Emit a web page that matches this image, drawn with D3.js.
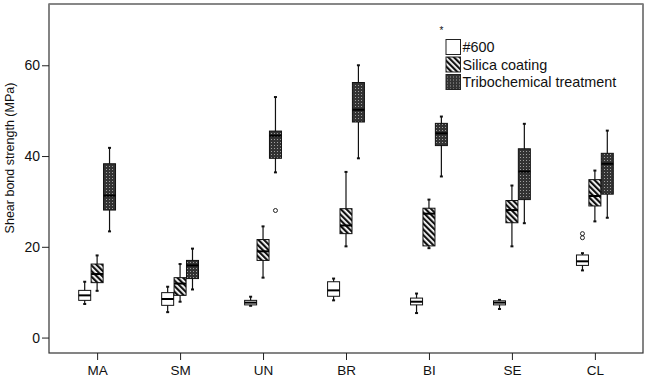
<html lang="en">
<head>
<style>
	body { margin: 0; background: #fff; }
	text { font-family: "Liberation Sans", Arial, sans-serif; fill: #111; }
	.axis path, .axis line { stroke: #222; }
</style>
</head>
<body>
<svg width="651" height="380"></svg>
</body>
<script type='text/javascript' src='https://d3js.org/d3.v7.min.js'></script>
<script>
	// categories and series
	var categories = ["MA", "SM", "UN", "BR", "BI", "SE", "CL"];
	var series = ["#600", "Silica coating", "Tribochemical treatment"];
	var yTicks = [0, 20, 40, 60];

	// five number summaries per category: [low whisker, q1, median, q3, high whisker]
	var stats600 = [
		[7.4, 8.2, 9.3, 10.4, 12.3],
		[5.6, 7.1, 8.5, 9.9, 11.2],
		[7.0, 7.2, 7.7, 8.2, 9.0],
		[8.2, 9.1, 10.4, 12.3, 13.0],
		[5.4, 7.2, 7.9, 8.7, 9.7],
		[6.3, 7.2, 7.7, 8.1, 8.3],
		[14.8, 15.9, 16.8, 18.2, 18.6]
	];
	var statsSilica = [
		[10.3, 12.1, 14.0, 16.2, 18.1],
		[7.9, 9.3, 11.9, 13.2, 16.2],
		[13.2, 17.0, 19.0, 21.6, 24.5],
		[20.1, 22.9, 24.7, 28.4, 36.5],
		[19.7, 20.2, 27.3, 28.5, 30.4],
		[20.1, 25.3, 28.1, 30.2, 33.5],
		[25.6, 29.0, 31.2, 34.8, 36.8]
	];
	var statsTribo = [
		[23.4, 28.1, 31.3, 38.3, 41.8],
		[10.6, 13.0, 15.9, 17.0, 19.6],
		[36.4, 39.5, 44.5, 45.5, 53.0],
		[39.5, 47.5, 50.2, 56.2, 60.0],
		[35.5, 42.3, 45.0, 47.2, 48.7],
		[25.2, 30.4, 36.6, 41.6, 47.1],
		[26.4, 31.6, 38.3, 40.6, 45.6]
	];
	// outliers: category, series index, value
	var outlierCats = ["UN", "CL", "CL"];
	var outlierSeries = [2, 0, 0];
	var outlierValues = [28.0, 22.0, 22.9];
	var extremeCats = ["BI"];
	var extremeSeries = [2];
	var extremeValues = [68.0];

	var allStats = [stats600, statsSilica, statsTribo];

	var svg = d3.select("svg");
	var plotL = 49, plotR = 643, plotT = 4, plotB = 353;

	var defs = svg.append("defs");
	var hatch = defs.append("pattern")
		.attr("id", "hatch")
		.attr("patternUnits", "userSpaceOnUse")
		.attr("width", 4).attr("height", 4)
		.attr("patternTransform", "rotate(-45)");
	hatch.append("rect").attr("width", 4).attr("height", 4).attr("fill", "#fff");
	hatch.append("rect").attr("width", 2.2).attr("height", 4).attr("fill", "#111");

	var dots = defs.append("pattern")
		.attr("id", "dots")
		.attr("patternUnits", "userSpaceOnUse")
		.attr("width", 3).attr("height", 3);
	dots.append("rect").attr("width", 3).attr("height", 3).attr("fill", "#333");
	dots.append("rect").attr("x", 1).attr("y", 1).attr("width", 1).attr("height", 1).attr("fill", "#a0a0a0");

	var fills = ["#fff", "url(#hatch)", "url(#dots)"];

	var x = d3.scalePoint().domain(categories).range([plotL, plotR]).padding(0.58);
	var xs = d3.scaleBand().domain(d3.range(series.length)).range([-18.5, 18.5]).paddingInner(0.02);
	var y = d3.scaleLinear().domain([-3.4, 73.5]).range([plotB, plotT]);
	var bw = 12;

	// frame
	svg.append("rect")
		.attr("x", plotL).attr("y", plotT)
		.attr("width", plotR - plotL).attr("height", plotB - plotT)
		.attr("fill", "none").attr("stroke", "#333").attr("stroke-width", 1.2);
	svg.append("line")
		.attr("x1", plotL).attr("x2", plotR).attr("y1", plotT).attr("y2", plotT)
		.attr("stroke", "#888").attr("stroke-width", 1.5);

	// axes
	var gy = svg.append("g").attr("class", "axis")
		.attr("transform", "translate(" + plotL + ",0)")
		.call(d3.axisLeft(y).tickValues(yTicks).tickSize(7).tickPadding(2).tickSizeOuter(0));
	gy.select(".domain").remove();
	gy.selectAll("text").attr("font-size", "14px").attr("fill", "#111");

	var gx = svg.append("g").attr("class", "axis")
		.attr("transform", "translate(0," + plotB + ")")
		.call(d3.axisBottom(x).tickSize(7).tickPadding(5).tickSizeOuter(0));
	gx.select(".domain").remove();
	gx.selectAll("text").attr("font-size", "13.5px").attr("fill", "#111");

	svg.append("text")
		.attr("transform", "translate(14,158) rotate(-90)")
		.attr("text-anchor", "middle")
		.attr("font-size", "12.5px")
		.text("Shear bond strength (MPa)");

	// boxes
	allStats.forEach(function(stats, s) {
		var g = svg.append("g");
		var cx = function(d, i) { return x(categories[i]) + xs(s) + xs.bandwidth() / 2; };
		g.selectAll(".whisker").data(stats).enter().append("line")
			.attr("x1", cx).attr("x2", cx)
			.attr("y1", function(d) { return y(d[0]); })
			.attr("y2", function(d) { return y(d[4]); })
			.attr("stroke", "#111").attr("stroke-width", 1.2);
		[0, 4].forEach(function(k) {
			g.selectAll(".cap" + k).data(stats).enter().append("line")
				.attr("x1", function(d, i) { return cx(d, i) - 1.5; })
				.attr("x2", function(d, i) { return cx(d, i) + 1.5; })
				.attr("y1", function(d) { return y(d[k]); })
				.attr("y2", function(d) { return y(d[k]); })
				.attr("stroke", "#111").attr("stroke-width", 2);
		});
		g.selectAll(".box").data(stats).enter().append("rect")
			.attr("x", function(d, i) { return cx(d, i) - bw / 2; })
			.attr("width", bw)
			.attr("y", function(d) { return y(d[3]); })
			.attr("height", function(d) { return y(d[1]) - y(d[3]); })
			.attr("fill", fills[s])
			.attr("stroke", "#111").attr("stroke-width", 1);
		g.selectAll(".median").data(stats).enter().append("line")
			.attr("x1", function(d, i) { return cx(d, i) - bw / 2; })
			.attr("x2", function(d, i) { return cx(d, i) + bw / 2; })
			.attr("y1", function(d) { return y(d[2]); })
			.attr("y2", function(d) { return y(d[2]); })
			.attr("stroke", "#000").attr("stroke-width", 2);
	});

	// outliers
	svg.selectAll(".outlier").data(outlierValues).enter().append("circle")
		.attr("cx", function(d, i) { return x(outlierCats[i]) + xs(outlierSeries[i]) + xs.bandwidth() / 2; })
		.attr("cy", function(d) { return y(d); })
		.attr("r", 2)
		.attr("fill", "none").attr("stroke", "#222").attr("stroke-width", 1);
	svg.selectAll(".extreme").data(extremeValues).enter().append("text")
		.attr("x", function(d, i) { return x(extremeCats[i]) + xs(extremeSeries[i]) + xs.bandwidth() / 2; })
		.attr("y", function(d) { return y(d) + 5; })
		.attr("text-anchor", "middle")
		.attr("font-size", "10px")
		.text("*");

	// legend
	var legend = svg.append("g").attr("transform", "translate(446,39.5)");
	series.forEach(function(name, i) {
		legend.append("rect")
			.attr("x", 0).attr("y", i * 17.5)
			.attr("width", 14.5).attr("height", 15)
			.attr("fill", fills[i]).attr("stroke", "#222").attr("stroke-width", 1);
		legend.append("text")
			.attr("x", 16.5).attr("y", i * 17.5 + 12.5)
			.attr("font-size", "14.4px")
			.text(name);
	});
</script>
</html>
